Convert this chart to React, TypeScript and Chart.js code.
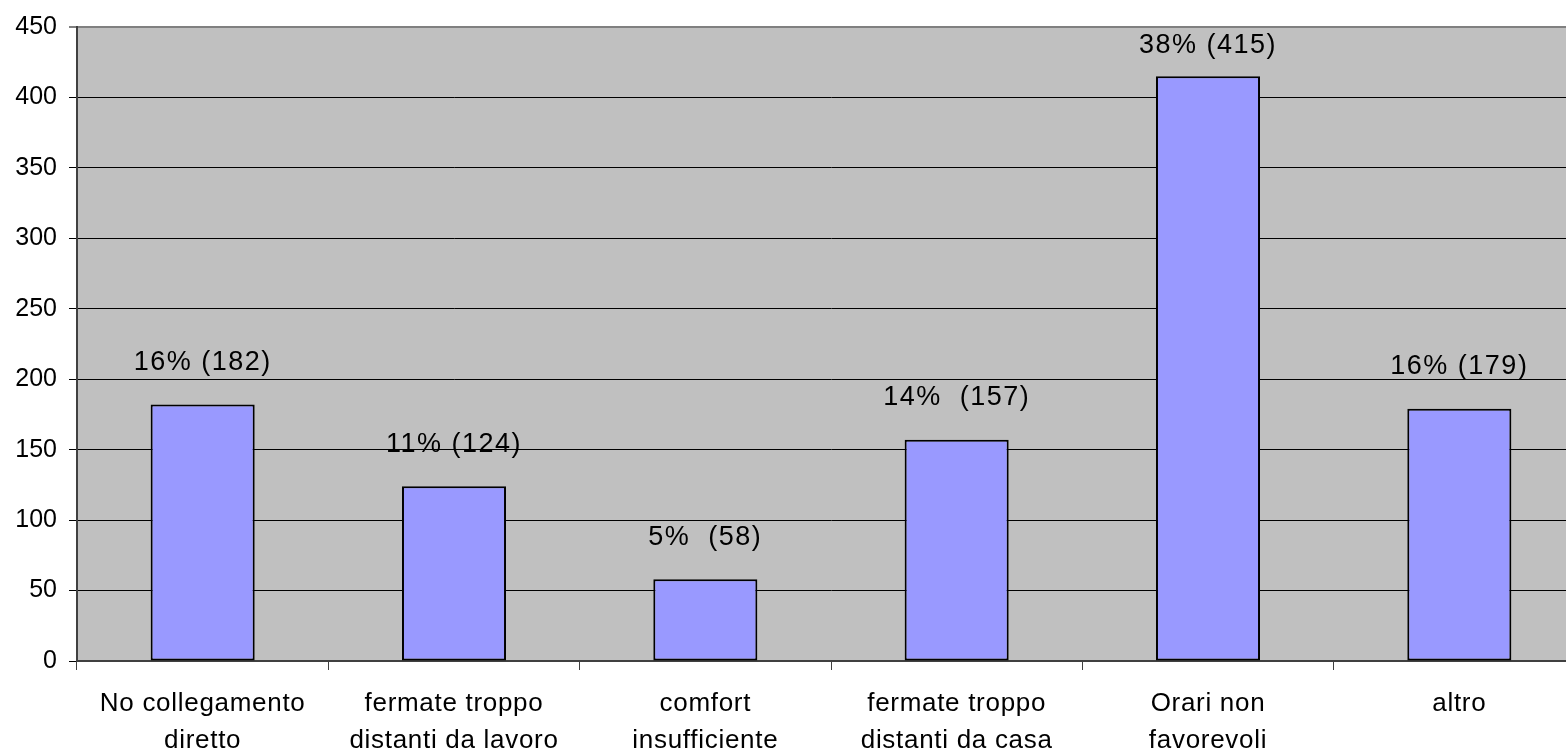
import React, { useEffect, useRef } from "react";
import { Chart, registerables } from "chart.js";

Chart.register(...registerables);

const categories: string[][] = [
  ["No collegamento", "diretto"],
  ["fermate troppo", "distanti da lavoro"],
  ["comfort", "insufficiente"],
  ["fermate troppo", "distanti da casa"],
  ["Orari non", "favorevoli"],
  ["altro"],
];
const counts: number[] = [182, 124, 58, 157, 415, 179];
const valueLabels: string[] = ["16% (182)", "11% (124)", "5%  (58)", "14%  (157)", "38% (415)", "16% (179)"];
const yMin = 0;
const yMax = 450;
const yStep = 50;

const FONT = "'Liberation Sans', Arial, sans-serif";

const bgPlugin = {
  id: "bgPlugin",
  beforeDraw(chart: any) {
    const { ctx, chartArea } = chart;
    ctx.save();
    ctx.fillStyle = "#ffffff";
    ctx.fillRect(0, 0, chart.width, chart.height);
    ctx.fillStyle = "#C0C0C0";
    ctx.fillRect(chartArea.left, chartArea.top, chartArea.right - chartArea.left, chartArea.bottom - chartArea.top);
    ctx.restore();
  },
};

const spacingPlugin = {
  id: "spacingPlugin",
  afterUpdate(chart: any) {
    const sx = chart.scales.x;
    if (sx && !sx._spaced) {
      const orig = sx.drawLabels.bind(sx);
      sx.drawLabels = (area: any) => {
        const ctx = chart.ctx;
        ctx.save();
        ctx.letterSpacing = "0.7px";
        orig(area);
        ctx.restore();
      };
      sx._spaced = true;
    }
  },
};

const labelPlugin = {
  id: "labelPlugin",
  afterDatasetsDraw(chart: any) {
    const { ctx, chartArea } = chart;
    const meta = chart.getDatasetMeta(0);
    ctx.save();
    ctx.font = `27px ${FONT}`;
    ctx.letterSpacing = "1.5px";
    ctx.fillStyle = "#000";
    ctx.textAlign = "center";
    ctx.textBaseline = "middle";
    meta.data.forEach((el: any, i: number) => {
      const y = Math.max(el.y - 42, chartArea.top + 19);
      ctx.fillText(valueLabels[i], el.x, y);
    });
    ctx.restore();
  },
};

export default function App() {
  const ref = useRef<HTMLCanvasElement>(null);
  useEffect(() => {
    if (!ref.current) return;
    const chart = new Chart(ref.current, {
      type: "bar",
      data: {
        labels: categories,
        datasets: [
          {
            data: counts,
            backgroundColor: "#9999FF",
            borderColor: "#000000",
            borderWidth: 2,
            borderSkipped: false,
            barPercentage: 0.414,
            categoryPercentage: 1,
          },
        ],
      },
      options: {
        animation: false,
        responsive: false,
        layout: { padding: { top: 24, right: 15, left: 0, bottom: 0 } },
        plugins: { legend: { display: false }, tooltip: { enabled: false } },
        scales: {
          x: {
            afterFit: (s: any) => {
              s.height = 94;
            },
            grid: {
              drawOnChartArea: false,
              drawTicks: true,
              tickLength: 9,
              offset: true,
              color: "#404040",
              lineWidth: 1,
            },
            border: { display: true, color: "#404040", width: 2 },
            ticks: {
              color: "#000",
              padding: 15,
              font: { family: FONT, size: 26, lineHeight: 1.42 },
            },
          },
          y: {
            min: yMin,
            max: yMax,
            afterFit: (s: any) => {
              s.width = 77;
            },
            grid: {
              color: (c: any) => (c.tick && c.tick.value === yMax ? "#808080" : "#000000"),
              lineWidth: (c: any) => (c.tick && c.tick.value === yMax ? 2 : 1),
              tickLength: 8,
            },
            border: { display: true, color: "#404040", width: 2 },
            ticks: {
              stepSize: yStep,
              color: "#000",
              padding: 12,
              font: { family: FONT, size: 25 },
            },
          },
        },
      },
      plugins: [bgPlugin, spacingPlugin, labelPlugin],
    });
    return () => chart.destroy();
  }, []);
  return (
    <div
      style={{
        position: "fixed",
        left: 0,
        top: 0,
        width: 1566,
        height: 755,
        overflow: "hidden",
        background: "#fff",
      }}
    >
      <canvas ref={ref} width={1600} height={755} style={{ display: "block", width: 1600, height: 755 }} />
    </div>
  );
}
